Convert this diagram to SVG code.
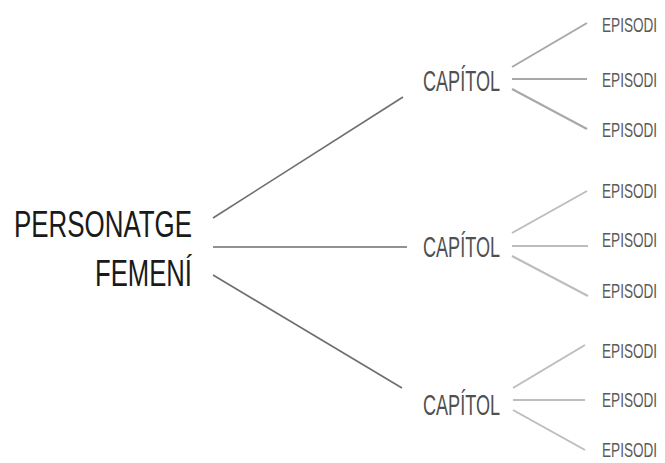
<svg xmlns="http://www.w3.org/2000/svg" width="665" height="463" viewBox="0 0 665 463">
<style>
text { font-family: "Liberation Sans", "DejaVu Sans", sans-serif; }
.root { font-size: 36px; fill: #1a1a1a; }
.cap { font-size: 29px; fill: #505050; }
.ep { font-size: 20px; fill: #5a5a5a; }
.main { stroke: #6e6e6e; stroke-width: 1.6; fill: none; }
.sub { stroke: #a8a8a8; stroke-width: 2; fill: none; }
.sub2 { stroke: #bdbdbd; stroke-width: 2; fill: none; }
</style>
<rect width="665" height="463" fill="#ffffff"/>
<g id="connectors">
<line class="main" x1="213" y1="218" x2="403" y2="97"/>
<line class="main" x1="213" y1="247" x2="407" y2="247"/>
<line class="main" x1="213" y1="275" x2="402" y2="388"/>
<line class="sub" x1="512" y1="67" x2="587" y2="23"/>
<line class="sub" x1="512" y1="79" x2="587" y2="79"/>
<line class="sub" x1="512" y1="89" x2="587" y2="129"/>
<line class="sub2" x1="512" y1="233" x2="587" y2="191"/>
<line class="sub2" x1="512" y1="246" x2="588" y2="246"/>
<line class="sub2" x1="512" y1="256" x2="588" y2="296"/>
<line class="sub2" x1="513" y1="388" x2="585" y2="345"/>
<line class="sub2" x1="513" y1="400" x2="585" y2="400"/>
<line class="sub2" x1="513" y1="410" x2="585" y2="450"/>
</g>
<g id="root">
<text class="root" x="14" y="237" textLength="178" lengthAdjust="spacingAndGlyphs">PERSONATGE</text>
<text class="root" x="95" y="286" textLength="97" lengthAdjust="spacingAndGlyphs">FEMENÍ</text>
</g>
<g id="cap1"><text class="cap" x="423" y="91" textLength="77" lengthAdjust="spacingAndGlyphs">CAPÍTOL</text></g>
<g id="cap2"><text class="cap" x="423" y="257" textLength="77" lengthAdjust="spacingAndGlyphs">CAPÍTOL</text></g>
<g id="cap3"><text class="cap" x="423" y="415" textLength="77" lengthAdjust="spacingAndGlyphs">CAPÍTOL</text></g>
<g id="ep1"><text class="ep" transform="translate(602 32) scale(0.68 1)">EPISODI</text></g>
<g id="ep2"><text class="ep" transform="translate(602 87) scale(0.68 1)">EPISODI</text></g>
<g id="ep3"><text class="ep" transform="translate(602 137) scale(0.68 1)">EPISODI</text></g>
<g id="ep4"><text class="ep" transform="translate(602 198) scale(0.68 1)">EPISODI</text></g>
<g id="ep5"><text class="ep" transform="translate(602 247) scale(0.68 1)">EPISODI</text></g>
<g id="ep6"><text class="ep" transform="translate(602 298) scale(0.68 1)">EPISODI</text></g>
<g id="ep7"><text class="ep" transform="translate(602 358) scale(0.68 1)">EPISODI</text></g>
<g id="ep8"><text class="ep" transform="translate(602 407) scale(0.68 1)">EPISODI</text></g>
<g id="ep9"><text class="ep" transform="translate(602 457) scale(0.68 1)">EPISODI</text></g>
</svg>
